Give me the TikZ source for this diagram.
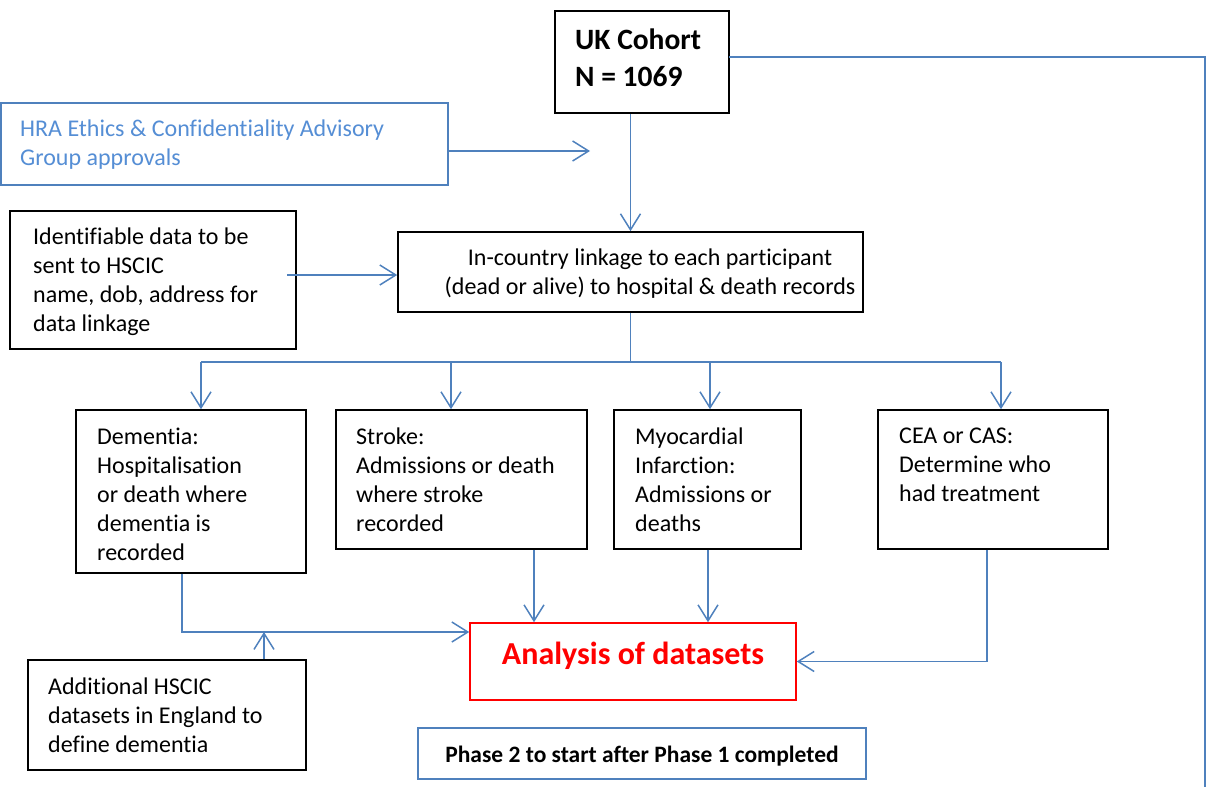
\documentclass[tikz,border=0pt]{standalone}
\usepackage{fontspec}
\setmainfont{Carlito}[Ligatures=NoCommon]
\usetikzlibrary{arrows.meta}
\definecolor{ob}{HTML}{4F81BD}
\definecolor{hratext}{HTML}{558ED5}
\definecolor{anared}{HTML}{FF0000}
\begin{document}
\begin{tikzpicture}[x=1pt,y=-1pt,
  box/.style={draw=black, line width=1.6pt, inner sep=0, fill=white},
  bluebox/.style={draw=ob, line width=1.6pt, inner sep=0, fill=white},
  redbox/.style={draw=anared, line width=1.5pt, inner sep=0, fill=white},
  txt/.style={anchor=north west, inner sep=0, align=left, font=\fontsize{24}{29}\selectfont},
  ctxt/.style={anchor=north, inner sep=0, align=center, font=\fontsize{24}{29}\selectfont},
  conn/.style={draw=ob, line width=1.5pt, -{Straight Barb[length=16pt,width=20pt]}},
  plain/.style={draw=ob, line width=1.5pt}]
\useasboundingbox (0,0) rectangle (1208,787);

% boxes
\node[box, minimum width=174, minimum height=102] (uk) at (642,62) {};
\node[bluebox, minimum width=447, minimum height=82] (hra) at (224.5,144) {};
\node[box, minimum width=286, minimum height=138] (ident) at (153,280) {};
\node[box, minimum width=465, minimum height=80] (link) at (630.5,272) {};
\node[box, minimum width=230, minimum height=163] (dem) at (191,491.5) {};
\node[box, minimum width=251, minimum height=139] (stroke) at (461.5,479.5) {};
\node[box, minimum width=187, minimum height=139] (mi) at (707.5,479.5) {};
\node[box, minimum width=230, minimum height=139] (cea) at (993,479.5) {};
\node[redbox, minimum width=326, minimum height=77] (ana) at (633,661.5) {};
\node[box, minimum width=278, minimum height=110] (add) at (167,715) {};
\node[bluebox, minimum width=448, minimum height=51] (phase) at (642,753.5) {};

% texts
\node[anchor=north west, inner sep=0, align=left, font=\fontsize{29.5}{37}\selectfont\bfseries] (ukt) at (575,29) {UK Cohort\\N = 1069};
\node[txt, text=hratext] (hrat) at (20,120) {HRA Ethics \& Confidentiality Advisory\\Group approvals};
\node[txt] (identt) at (33,228) {Identifiable data to be\\sent to HSCIC\\name, dob, address for\\data linkage};
\node[ctxt] (linkt) at (650,249) {In-country linkage to each participant\\(dead or alive) to hospital \& death records};
\node[txt] (demt) at (97,428) {Dementia:\\Hospitalisation\\or death where\\dementia is\\recorded};
\node[txt] (strokt) at (356,428) {Stroke:\\Admissions or death\\where stroke\\recorded};
\node[txt] (mit) at (635,428) {Myocardial\\Infarction:\\Admissions or\\deaths};
\node[txt] (ceat) at (899,428) {CEA or CAS:\\Determine who\\had treatment};
\node[txt] (addt) at (48,678) {Additional HSCIC\\datasets in England to\\define dementia};
\node[anchor=base, inner sep=0, text=anared, font=\fontsize{32}{38}\selectfont\bfseries] (anat) at (633,664) {Analysis of datasets};
\node[anchor=base, inner sep=0, font=\fontsize{23.5}{28}\selectfont\bfseries] (phaset) at (642,762) {Phase 2 to start after Phase 1 completed};

% connectors
\coordinate (ukr) at (729,57);
\coordinate (rdown) at (1205,790);
\draw[plain] (ukr) -| (rdown);

\coordinate (hraend) at (590,151);
\draw[conn] (hra.east |- hraend) -- (hraend);

\draw[conn] (link.north |- uk.south) -- (link.north);

\coordinate (idstart) at (287,275);
\draw[conn] (idstart) -- (idstart -| link.west);

\coordinate (busL) at (201,362);
\coordinate (b2) at (451,362);
\coordinate (b3) at (710,362);
\coordinate (busR) at (1001,362);
\draw[plain] (link.south) -- (link.south |- busL);
\draw[plain] (busL) -- (busR);
\draw[conn] (busL) -- (busL |- dem.north);
\draw[conn] (b2) -- (b2 |- stroke.north);
\draw[conn] (b3) -- (b3 |- mi.north);
\draw[conn] (busR) -- (busR |- cea.north);

\coordinate (dj) at (182,632);
\draw[conn] (dj |- dem.south) -- (dj) -- (dj -| ana.west);
\coordinate (aj) at (264,632);
\draw[conn] (aj |- add.north) -- (aj);

\coordinate (sx) at (534,0);
\draw[conn] (sx |- stroke.south) -- (sx |- ana.north);
\coordinate (mx) at (708,0);
\draw[conn] (mx |- mi.south) -- (mx |- ana.north);
\coordinate (cx) at (987,0);
\draw[conn] (cx |- cea.south) |- (ana.east);
\end{tikzpicture}
\end{document}
